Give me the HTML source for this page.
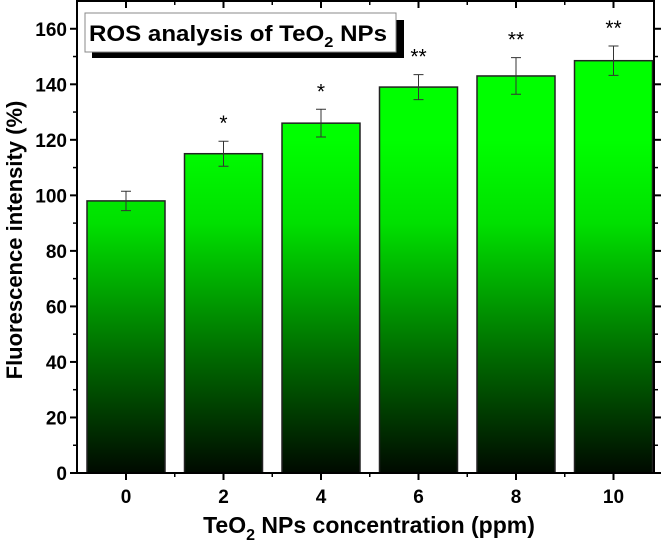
<!DOCTYPE html>
<html><head><meta charset="utf-8"><style>
html,body{margin:0;padding:0;background:#fff;}
svg{display:block;font-family:"Liberation Sans",Arial,sans-serif;}
</style></head><body>
<svg id="chart" width="664" height="551" viewBox="0 0 664 551">
<defs>
<linearGradient id="barGrad" gradientUnits="userSpaceOnUse" x1="0" y1="473" x2="0" y2="140">
<stop offset="0" stop-color="#000a00"/>
<stop offset="0.35" stop-color="#006a00"/>
<stop offset="0.75" stop-color="#00e000"/>
<stop offset="1" stop-color="#00ff00"/>
</linearGradient>
</defs>
<g id="bars"></g>
<g id="errs"></g>
<g id="stars"></g>
<g id="axes"></g>
<g>
<rect x="92" y="20" width="312" height="38" fill="#000"/>
<rect x="85" y="13" width="311" height="39" fill="#fff" stroke="#888" stroke-width="1"/>
<text x="89" y="41" font-size="22" font-weight="bold" fill="#000" textLength="298" lengthAdjust="spacingAndGlyphs">ROS analysis of TeO<tspan font-size="15" dy="6">2</tspan><tspan dy="-6"> NPs</tspan></text>
</g>
<text transform="translate(22,240) rotate(-90)" text-anchor="middle" font-size="22" font-weight="bold">Fluorescence intensity (%)</text>
<text x="369" y="533" text-anchor="middle" font-size="23" font-weight="bold">TeO<tspan font-size="16" dy="7">2</tspan><tspan dy="-7"> NPs concentration (ppm)</tspan></text>
</svg>
<script>
const categories = ["0","2","4","6","8","10"];
const values = [98, 115, 126, 139, 143, 148.5];
const errors = [3.5, 4.5, 5, 4.5, 6.6, 5.3];
const stars = ["", "*", "*", "**", "**", "**"];
const yTicks = [0,20,40,60,80,100,120,140,160];

const NS="http://www.w3.org/2000/svg";
const L=77,R=654,T=1,B=473,yMax=170;
const step=97.5, x0=126;
const xs=i=>x0+i*step;
const ys=v=>B-v/yMax*(B-T);
const bw=78;
function mk(tag,attrs,parent,txt){const e=document.createElementNS(NS,tag);for(const k in attrs)e.setAttribute(k,attrs[k]);if(txt!==undefined)e.textContent=txt;parent.appendChild(e);return e;}
const gb=document.getElementById('bars'),ge=document.getElementById('errs'),gs=document.getElementById('stars'),ga=document.getElementById('axes');
values.forEach((v,i)=>{
  const r=mk('rect',{x:xs(i)-bw/2,y:ys(v),width:bw,height:B-ys(v),fill:'url(#barGrad)',stroke:'#222','stroke-width':1.5},gb);
  
  
  const cx=xs(i),t=ys(v+errors[i]),b=ys(v-errors[i]);
  const p=mk('path',{d:`M${cx-5},${t}H${cx+5}M${cx},${t}V${b}M${cx-5},${b}H${cx+5}`,stroke:'#333','stroke-width':1,fill:'none'},ge);
  
  
  if(stars[i]){
    const s=mk('text',{x:cx,y:t-11,'text-anchor':'middle','font-size':21},gs,stars[i]);
    
    
  }
});
const frame=mk('rect',{x:L,y:T,width:R-L,height:B-T,fill:'none',stroke:'#000','stroke-width':2},ga);


yTicks.forEach(v=>{
  const y=ys(v);
  mk('line',{x1:L-7,x2:L,y1:y,y2:y,stroke:'#000','stroke-width':2},ga);
  mk('line',{x1:R,x2:R+7,y1:y,y2:y,stroke:'#000','stroke-width':2},ga);
  const ym=ys(v+10);
  if(v+10<yMax){mk('line',{x1:L-4,x2:L,y1:ym,y2:ym,stroke:'#000','stroke-width':1.5},ga);mk('line',{x1:R,x2:R+4,y1:ym,y2:ym,stroke:'#000','stroke-width':1.5},ga);}
  const t=mk('text',{x:L-10,y:y+7,'text-anchor':'end','font-size':19,'font-weight':'bold'},ga,String(v));
  
  
});
categories.forEach((c,i)=>{
  const x=xs(i);
  mk('line',{x1:x,x2:x,y1:B,y2:B+7,stroke:'#000','stroke-width':2},ga);
  mk('line',{x1:x,x2:x,y1:T,y2:T+7,stroke:'#000','stroke-width':2},ga);
  const xm=x+step/2;
  if(xm<R){mk('line',{x1:xm,x2:xm,y1:B,y2:B+4,stroke:'#000','stroke-width':1.5},ga);mk('line',{x1:xm,x2:xm,y1:T,y2:T+4,stroke:'#000','stroke-width':1.5},ga);}
  const t=mk('text',{x:x,y:B+30,'text-anchor':'middle','font-size':19,'font-weight':'bold'},ga,c);
  
  
});
</script>
</body></html>
